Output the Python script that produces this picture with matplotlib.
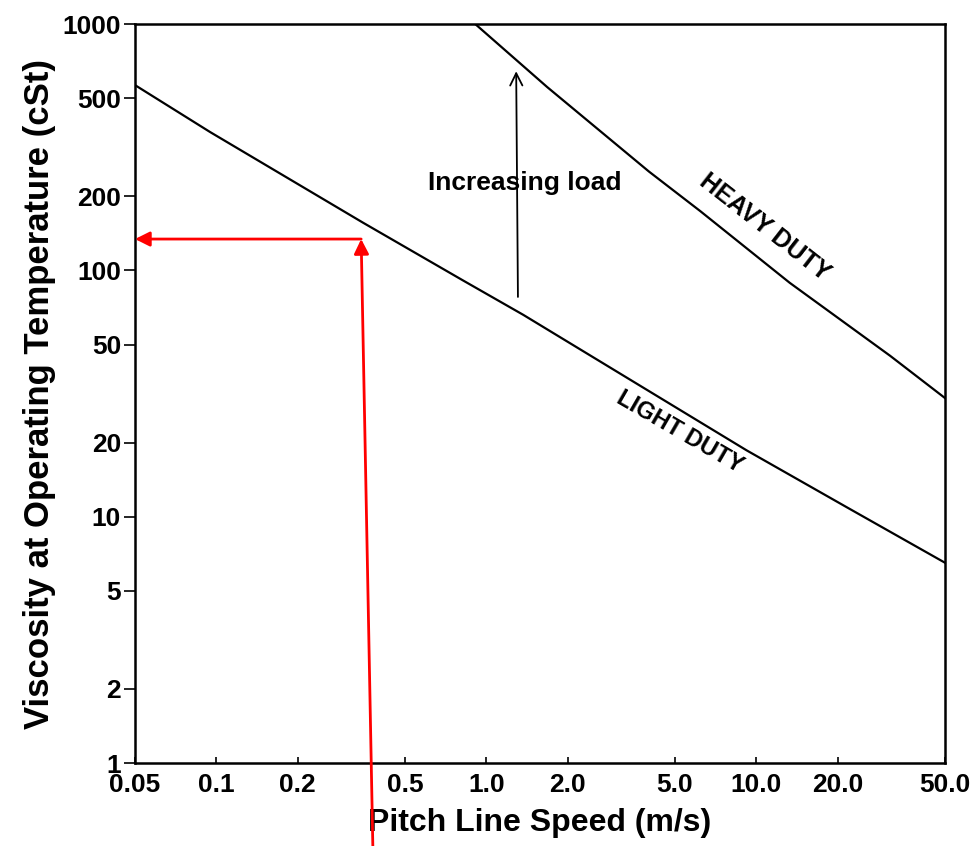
import matplotlib
matplotlib.use("Agg")
import matplotlib.pyplot as plt
from matplotlib.ticker import FixedLocator, NullLocator

plt.rcParams['font.family'] = ['Liberation Sans', 'DejaVu Sans']

# x ticks (pitch line speed, m/s)
x_ticks = [0.05, 0.1, 0.2, 0.5, 1.0, 2.0, 5.0, 10.0, 20.0, 50.0]
x_tick_labels = ['0.05', '0.1', '0.2', '0.5', '1.0', '2.0', '5.0', '10.0', '20.0', '50.0']
# y ticks (viscosity, cSt)
y_ticks = [1, 2, 5, 10, 20, 50, 100, 200, 500, 1000]
y_tick_labels = ['1', '2', '5', '10', '20', '50', '100', '200', '500', '1000']

# light duty curve
light_speed = [0.05, 0.095, 0.35, 0.82, 1.37, 9.2, 21.7, 50.0]
light_visc = [565, 364, 156, 91, 66, 18.6, 10.9, 6.5]

# heavy duty curve
heavy_speed = [0.91, 1.68, 4.0, 6.2, 13.3, 31.3, 50.0]
heavy_visc = [1000, 555, 252, 174, 89, 45, 30.3]

# worked example (red arrows)
example_speed_bottom = 0.38
example_speed = 0.344
example_visc_bottom = 0.46
example_visc = 134

fig = plt.figure(figsize=(9.79, 8.46), dpi=100)
ax = fig.add_axes([0.1379, 0.0981, 0.8274, 0.8735])
ax.set_xscale('log')
ax.set_yscale('log')
ax.set_xlim(0.05, 50)
ax.set_ylim(1, 1000)

ax.plot(light_speed, light_visc, color='black', lw=1.6)
ax.plot(heavy_speed, heavy_visc, color='black', lw=1.6)

# increasing load arrow
ax.annotate('', xy=(1.29, 660), xytext=(1.31, 76),
            arrowprops=dict(arrowstyle='->', color='black', lw=1.3, mutation_scale=22))
ax.text(1.39, 226, 'Increasing load', ha='center', va='center', fontsize=19, fontweight='bold')

ax.text(10.7, 149, 'HEAVY DUTY', rotation=-38, rotation_mode='anchor',
        ha='center', va='center', fontsize=18, fontweight='bold')
ax.text(5.2, 22.0, 'LIGHT DUTY', rotation=-30, rotation_mode='anchor',
        ha='center', va='center', fontsize=17, fontweight='bold')

# red arrows
ax.annotate('', xy=(example_speed, example_visc), xytext=(example_speed_bottom, example_visc_bottom),
            xycoords='data', textcoords='data', annotation_clip=False,
            arrowprops=dict(arrowstyle='-|>', color='red', lw=2, mutation_scale=22,
                            shrinkA=0, shrinkB=0))
ax.annotate('', xy=(0.05, example_visc), xytext=(example_speed, example_visc),
            annotation_clip=False,
            arrowprops=dict(arrowstyle='-|>', color='red', lw=2, mutation_scale=22,
                            shrinkA=0, shrinkB=0))

ax.xaxis.set_major_locator(FixedLocator(x_ticks))
ax.xaxis.set_minor_locator(NullLocator())
ax.yaxis.set_major_locator(FixedLocator(y_ticks))
ax.yaxis.set_minor_locator(NullLocator())
ax.set_xticklabels(x_tick_labels)
ax.set_yticklabels(y_tick_labels)
ax.tick_params(axis='x', direction='in', length=4, width=1.2, pad=7, labelsize=19)
ax.tick_params(axis='y', direction='out', length=8, width=1.2, pad=2, labelsize=19)
for lab in ax.get_xticklabels() + ax.get_yticklabels():
    lab.set_fontweight('bold')

for s in ax.spines.values():
    s.set_linewidth(1.8)

ax.set_xlabel('Pitch Line Speed (m/s)', fontsize=23, fontweight='bold', labelpad=8)
ax.set_ylabel('Viscosity at Operating Temperature (cSt)', fontsize=25, fontweight='bold', labelpad=5)

fig.savefig('out.png', dpi=100)
